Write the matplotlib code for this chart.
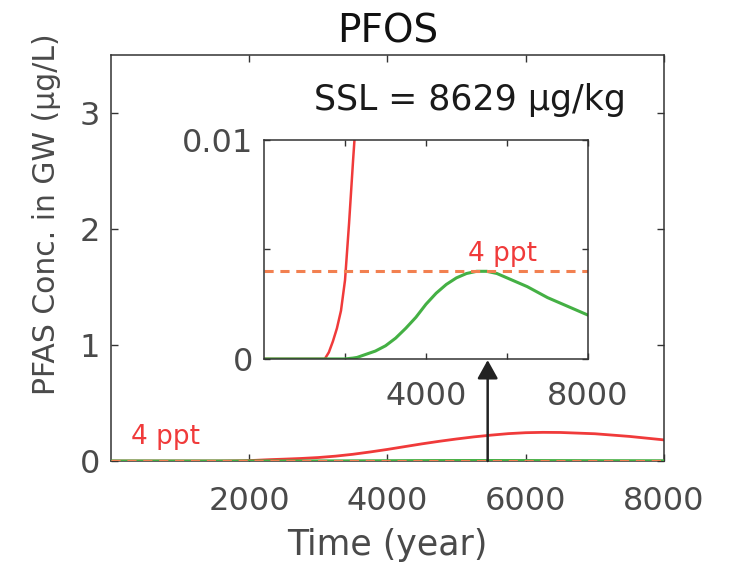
import matplotlib
matplotlib.use('Agg')
import matplotlib.pyplot as plt

# time in years, GW concentration in ug/L
years = [0, 1000, 1500, 1600, 1700, 1800, 1900, 2000, 2100, 2200, 2300, 2500, 2750,
         3000, 3250, 3500, 3750, 4000, 4250, 4500, 4750, 5000, 5250, 5500, 5750,
         6000, 6250, 6500, 7000, 7500, 8000]
conc_red = [0, 0, 0, 0.0003, 0.0008, 0.0014, 0.0022, 0.0036, 0.0062, 0.0091, 0.0118, 0.016, 0.022,
            0.03, 0.042, 0.058, 0.078, 0.1, 0.124, 0.148, 0.17, 0.19, 0.208, 0.223, 0.236,
            0.244, 0.247, 0.246, 0.235, 0.212, 0.182]
conc_green = [0, 0, 0, 0, 0, 0, 0, 0, 0.00002, 0.00004, 0.00007, 0.0002, 0.00036,
              0.0006, 0.00095, 0.0014, 0.0019, 0.0025, 0.003, 0.0034, 0.0037, 0.0039, 0.004, 0.004, 0.0039,
              0.0037, 0.0035, 0.0033, 0.0028, 0.0024, 0.002]
limit = 0.004          # 4 ppt in ug/L
arrow_year = 5450
ssl_text = 'SSL = 8629 µg/kg'

red = '#f03a3a'
green = '#44b044'
dash = '#f28050'
grey = '#4a4a4a'

plt.rcParams['font.family'] = 'DejaVu Sans'

fig = plt.figure(figsize=(7.32, 5.78), dpi=100)
ax = fig.add_axes([0.1516, 0.2024, 0.7554, 0.7026])

ax.plot(years, conc_red, color=red, lw=2, zorder=2)
ax.plot(years, conc_green, color=green, lw=2.2, zorder=3)
ax.axhline(limit, color=dash, lw=2.2, dashes=(3, 2.2), zorder=4)

ax.set_xlim(0, 8000)
ax.set_ylim(0, 3.5)
ax.set_xticks([2000, 4000, 6000, 8000])
ax.set_yticks([0, 1, 2, 3])
ax.tick_params(direction='in', top=True, right=True, length=5, width=1,
               labelsize=23, colors='#333333', labelcolor=grey)
ax.tick_params(axis='x', pad=18)
ax.tick_params(axis='y', pad=8)
for s in ax.spines.values():
    s.set_color('#333333')
    s.set_linewidth(1.1)

ax.set_xlabel('Time (year)', fontsize=25, color=grey, labelpad=8)
ax.set_ylabel('PFAS Conc. in GW (µg/L)', fontsize=21.5, color=grey, va='center')
ax.yaxis.set_label_coords(-0.116, 0.608)
ax.set_title('PFOS', fontsize=28, color='#111111', pad=9)

ax.text(290, 0.207, '4 ppt', color=red, fontsize=19, ha='left', va='center')
ax.text(0.367, 0.889, ssl_text, transform=ax.transAxes, fontsize=25,
        color='#1a1a1a', ha='left', va='center')

# inset
ins = fig.add_axes([0.3607, 0.379, 0.4426, 0.379])
ins.plot(years, conc_red, color=red, lw=1.8)
ins.plot(years, conc_green, color=green, lw=2.2)
ins.axhline(limit, color=dash, lw=2.2, dashes=(3, 2.2))
ins.set_xlim(0, 8000)
ins.set_ylim(0, 0.01)
ins.set_xticks([2000, 4000, 6000, 8000])
ins.set_xticklabels(['', '4000', '', '8000'])
ins.set_yticks([0, 0.005, 0.01])
ins.set_yticklabels(['0', '', '0.01'])
ins.tick_params(direction='in', top=True, right=True, length=4, width=1,
                labelsize=23, colors='#333333', labelcolor=grey)
ins.tick_params(axis='x', pad=16)
ins.tick_params(axis='y', pad=8)
for s in ins.spines.values():
    s.set_color('#333333')
    s.set_linewidth(1.1)
ins.text(5893, 0.0048, '4 ppt', color=red, fontsize=19, ha='center', va='center')

# arrow from the main curve up to the inset
ax.annotate('', xy=(arrow_year, 0.87), xytext=(arrow_year, 0),
            arrowprops=dict(arrowstyle='-|>,head_length=0.45,head_width=0.25',
                            mutation_scale=25, lw=1.8, color='#222222',
                            shrinkA=0, shrinkB=0), zorder=5)

fig.savefig('out.png', dpi=100)
